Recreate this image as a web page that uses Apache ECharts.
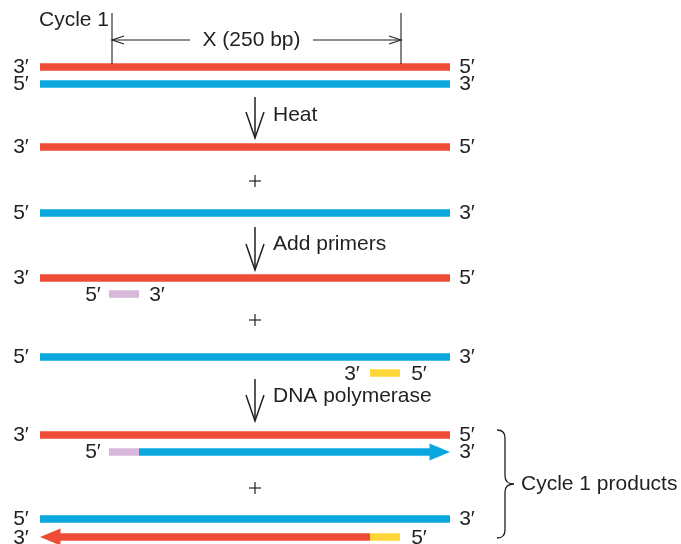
<!DOCTYPE html>
<html><head><meta charset="utf-8">
<script src="https://cdn.jsdelivr.net/npm/echarts@6/dist/echarts.min.js"></script>
<style>html,body{margin:0;padding:0;background:#fff}#c{width:681px;height:544px}</style>
</head><body><div id="c"></div>
<script>
// Diagram coordinate space (x: 0..681, y: 0..544 downward)
const palette = { red: '#EE4C37', blue: '#0BA8E0', purple: '#D7B8DA', yellow: '#FED638' };

// strands: [xStart, xEnd, y, colour, arrow (1 right, -1 left, 0 none)]
const strands = [
  [40, 450, 67, 'red', 0],
  [40, 450, 84, 'blue', 0],
  [40, 450, 147, 'red', 0],
  [40, 450, 213, 'blue', 0],
  [40, 450, 278, 'red', 0],
  [109, 139, 294, 'purple', 0],
  [40, 450, 357, 'blue', 0],
  [370, 400, 373, 'yellow', 0],
  [40, 450, 435, 'red', 0],
  [109, 139, 452, 'purple', 0],
  [139, 450, 452, 'blue', 1],
  [40, 450, 519, 'blue', 0],
  [40, 370, 537, 'red', -1],
  [370, 400, 537, 'yellow', 0]
];

// end labels: [x, y, text]
const endLabels = [
  [21, 67, '3′'], [467, 67, '5′'],
  [21, 84, '5′'], [467, 84, '3′'],
  [21, 147, '3′'], [467, 147, '5′'],
  [21, 213, '5′'], [467, 213, '3′'],
  [21, 278, '3′'], [467, 278, '5′'],
  [93, 295, '5′'], [157, 295, '3′'],
  [21, 357, '5′'], [467, 357, '3′'],
  [352, 374, '3′'], [419, 374, '5′'],
  [21, 435, '3′'], [467, 435, '5′'],
  [93, 452, '5′'], [467, 452, '3′'],
  [21, 519, '5′'], [467, 519, '3′'],
  [21, 538, '3′'], [419, 538, '5′']
];

// step texts: [x, y, text]
const stepTexts = [
  [39, 20, 'Cycle 1'],
  [273, 115, 'Heat'],
  [273, 244, 'Add primers'],
  [273, 396, 'DNA polymerase'],
  [521, 484, 'Cycle 1 products']
];
const pluses = [[255, 181], [255, 320], [255, 488]];

// step arrows: [x, yTop, yTip]
const stepArrows = [[255, 97, 138], [255, 227, 270], [255, 379, 421]];

// dimension marker: [xLeft, xRight, yTop, yBottom, yArrow, gapLeft, gapRight, label]
const dimension = [[112, 401, 13, 64, 40, 190, 313, 'X (250 bp)']];

// brace: [xLeft, xMid, xTip, yTop, yBottom]
const brace = [[497, 505, 514, 430, 538]];

const ink = '#231F20';
const font = '21px "Liberation Sans", Arial, sans-serif';

const chart = echarts.init(document.getElementById('c'), null, { renderer: 'canvas' });

function strandItem(params, api) {
  const s = strands[params.dataIndex];
  const p0 = api.coord([s[0], s[2]]);
  const p1 = api.coord([s[1], s[2]]);
  const h = 7.5, headL = 20, headH = 8.5;
  const col = palette[s[3]];
  const children = [];
  let xa = p0[0], xb = p1[0];
  if (s[4] === 1) xb -= headL;
  if (s[4] === -1) xa += headL;
  children.push({ type: 'rect', shape: { x: xa, y: p0[1] - h / 2, width: xb - xa, height: h }, style: { fill: col } });
  if (s[4] === 1) {
    children.push({ type: 'polygon', shape: { points: [[xb - 0.5, p0[1] - headH], [p1[0], p0[1]], [xb - 0.5, p0[1] + headH]] }, style: { fill: col } });
  } else if (s[4] === -1) {
    children.push({ type: 'polygon', shape: { points: [[xa + 0.5, p0[1] - headH], [p0[0], p0[1]], [xa + 0.5, p0[1] + headH]] }, style: { fill: col } });
  }
  return { type: 'group', children };
}

function textItem(arr, align) {
  return function (params, api) {
    const t = arr[params.dataIndex];
    const p = api.coord([t[0], t[1]]);
    return { type: 'text', x: p[0], y: p[1], style: { text: t[2], fill: ink, font: font, align: align, verticalAlign: 'middle' } };
  };
}

function plusItem(params, api) {
  const t = pluses[params.dataIndex];
  const p = api.coord([t[0], t[1]]);
  const r = 6;
  return { type: 'group', children: [
    { type: 'line', shape: { x1: p[0] - r, y1: p[1], x2: p[0] + r, y2: p[1] }, style: { stroke: ink, lineWidth: 1.2 } },
    { type: 'line', shape: { x1: p[0], y1: p[1] - r, x2: p[0], y2: p[1] + r }, style: { stroke: ink, lineWidth: 1.2 } }
  ] };
}

function stepArrowItem(params, api) {
  const a = stepArrows[params.dataIndex];
  const top = api.coord([a[0], a[1]]);
  const tip = api.coord([a[0], a[2]]);
  const armL = 26, armW = 9;
  return { type: 'group', children: [
    { type: 'line', shape: { x1: top[0], y1: top[1], x2: tip[0], y2: tip[1] }, style: { stroke: ink, lineWidth: 1.5 } },
    { type: 'polyline', shape: { points: [[tip[0] - armW, tip[1] - armL], [tip[0], tip[1]], [tip[0] + armW, tip[1] - armL]] }, style: { stroke: ink, lineWidth: 1.5, fill: null } }
  ] };
}

function dimensionItem(params, api) {
  const d = dimension[params.dataIndex];
  const L = api.coord([d[0], d[2]]), Lb = api.coord([d[0], d[3]]);
  const R = api.coord([d[1], d[2]]), Rb = api.coord([d[1], d[3]]);
  const yA = api.coord([0, d[4]])[1];
  const gL = api.coord([d[5], 0])[0], gR = api.coord([d[6], 0])[0];
  const hl = 12, hw = 4;
  const st = { stroke: ink, lineWidth: 1.1, fill: null };
  return { type: 'group', children: [
    { type: 'line', shape: { x1: L[0], y1: L[1], x2: Lb[0], y2: Lb[1] }, style: st },
    { type: 'line', shape: { x1: R[0], y1: R[1], x2: Rb[0], y2: Rb[1] }, style: st },
    { type: 'line', shape: { x1: L[0], y1: yA, x2: gL, y2: yA }, style: st },
    { type: 'line', shape: { x1: gR, y1: yA, x2: R[0], y2: yA }, style: st },
    { type: 'polyline', shape: { points: [[L[0] + hl, yA - hw], [L[0], yA], [L[0] + hl, yA + hw]] }, style: st },
    { type: 'polyline', shape: { points: [[R[0] - hl, yA - hw], [R[0], yA], [R[0] - hl, yA + hw]] }, style: st },
    { type: 'text', x: (gL + gR) / 2, y: yA, style: { text: d[7], fill: ink, font: font, align: 'center', verticalAlign: 'middle' } }
  ] };
}

function braceItem(params, api) {
  const b = brace[params.dataIndex];
  const xl = api.coord([b[0], 0])[0], xm = api.coord([b[1], 0])[0], xt = api.coord([b[2], 0])[0];
  const yt = api.coord([0, b[3]])[1], yb = api.coord([0, b[4]])[1];
  const ym = (yt + yb) / 2, r = 8;
  const path = 'M' + xl + ',' + yt + ' Q' + xm + ',' + yt + ' ' + xm + ',' + (yt + r) +
    ' L' + xm + ',' + (ym - r) + ' Q' + xm + ',' + ym + ' ' + xt + ',' + ym +
    ' Q' + xm + ',' + ym + ' ' + xm + ',' + (ym + r) +
    ' L' + xm + ',' + (yb - r) + ' Q' + xm + ',' + yb + ' ' + xl + ',' + yb;
  return { type: 'path', shape: { pathData: path }, style: { stroke: ink, lineWidth: 1.3, fill: null } };
}

chart.setOption({
  animation: false,
  grid: { left: 0, right: 0, top: 0, bottom: 0 },
  xAxis: { type: 'value', min: 0, max: 681, show: false },
  yAxis: { type: 'value', min: 0, max: 544, inverse: true, show: false },
  series: [
    { type: 'custom', renderItem: strandItem, data: strands.map(s => [s[0], s[2]]), clip: false },
    { type: 'custom', renderItem: textItem(endLabels, 'center'), data: endLabels.map(t => [t[0], t[1]]), clip: false },
    { type: 'custom', renderItem: textItem(stepTexts, 'left'), data: stepTexts.map(t => [t[0], t[1]]), clip: false },
    { type: 'custom', renderItem: plusItem, data: pluses, clip: false },
    { type: 'custom', renderItem: stepArrowItem, data: stepArrows.map(a => [a[0], a[2]]), clip: false },
    { type: 'custom', renderItem: dimensionItem, data: dimension.map(d => [d[0], d[4]]), clip: false },
    { type: 'custom', renderItem: braceItem, data: brace.map(b => [b[0], b[3]]), clip: false }
  ]
});
</script></body></html>
